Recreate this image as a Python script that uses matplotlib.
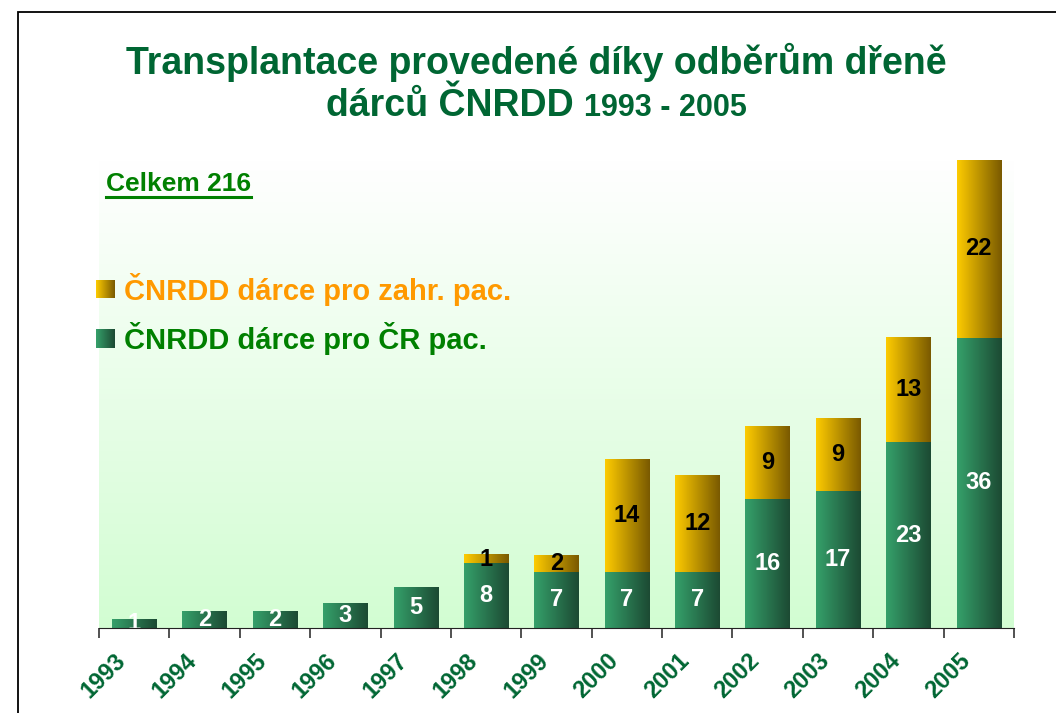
import numpy as np
import matplotlib
matplotlib.use("Agg")
import matplotlib.pyplot as plt
import matplotlib.transforms as mtransforms
from matplotlib.colors import LinearSegmentedColormap
from matplotlib.patches import Rectangle

years = ["1993", "1994", "1995", "1996", "1997", "1998", "1999",
         "2000", "2001", "2002", "2003", "2004", "2005"]
cr_pac = [1, 2, 2, 3, 5, 8, 7, 7, 7, 16, 17, 23, 36]
zahr_pac = [0, 0, 0, 0, 0, 1, 2, 14, 12, 9, 9, 13, 22]
legend_labels = ["ČNRDD dárce pro zahr. pac.", "ČNRDD dárce pro ČR pac."]
total_label = "Celkem 216"

plt.rcParams['font.family'] = ['Liberation Sans', 'DejaVu Sans']

W, H = 1056, 713
fig = plt.figure(figsize=(W / 100, H / 100), dpi=100)

title_col = "#006633"
green_cmap = LinearSegmentedColormap.from_list("g", ["#35a06a", "#1c4a33"])
yellow_cmap = LinearSegmentedColormap.from_list("y", ["#fdcb00", "#7a5a00"])
bg_cmap = LinearSegmentedColormap.from_list("bg", ["#d2fdd2", "#ffffff"])

# frame
fig.patches.append(Rectangle((18 / W, -0.1), 1.2, 1 - 12 / H + 0.1,
                             transform=fig.transFigure, fill=False,
                             edgecolor="black", linewidth=1.3))

ax = fig.add_axes([99 / W, 1 - 628 / H, (1014 - 99) / W, (628 - 160) / H])
n = len(years)
ax.set_xlim(-0.5, n - 0.5)
ax.set_ylim(0, 58)

grad = np.linspace(0, 1, 256).reshape(-1, 1)
ax.imshow(grad, extent=[-0.5, n - 0.5, 0, 58], aspect='auto', cmap=bg_cmap,
          origin='lower', zorder=0)

hgrad = np.linspace(0, 1, 64).reshape(1, -1)
bw = 0.63
for i in range(n):
    g = cr_pac[i]
    z = zahr_pac[i]
    ax.imshow(hgrad, extent=[i - bw / 2, i + bw / 2, 0, g], aspect='auto',
              cmap=green_cmap, zorder=2)
    ax.text(i, g / 2, str(g), ha='center', va='center', color='white',
            fontsize=17, fontweight='bold', zorder=4)
    if z > 0:
        ax.imshow(hgrad, extent=[i - bw / 2, i + bw / 2, g, g + z],
                  aspect='auto', cmap=yellow_cmap, zorder=2)
        ax.text(i, g + z / 2, str(z), ha='center', va='center', color='black',
                fontsize=17, fontweight='bold', zorder=4)

ax.set_xlim(-0.5, n - 0.5)
ax.set_ylim(0, 58)
for s in ['top', 'right', 'left']:
    ax.spines[s].set_visible(False)
ax.spines['bottom'].set_color('#222222')
ax.spines['bottom'].set_zorder(5)
ax.set_yticks([])
ax.set_xticks(np.arange(-0.5, n, 1.0))
ax.set_xticklabels([])
ax.tick_params(axis='x', length=7, width=1.2, color='#333333', direction='out')
ax.set_xticks(np.arange(n), minor=True)
ax.set_xticklabels(years, minor=True, rotation=45, ha='right', va='top',
                   rotation_mode='anchor', fontsize=17, fontweight='bold',
                   color=title_col)
ax.tick_params(axis='x', which='minor', length=0, pad=15)
off = mtransforms.ScaledTranslation(-20 / 100, 0, fig.dpi_scale_trans)
for lab in ax.get_xticklabels(minor=True):
    lab.set_transform(lab.get_transform() + off)

# title
renderer = fig.canvas.get_renderer()
fig.text(536 / W, 1 - 62 / H, "Transplantace provedené díky odběrům dřeně",
         ha='center', va='center', fontsize=27, fontweight='bold', color=title_col)
t1 = fig.text(0, 1 - 116 / H, "dárců ČNRDD ", ha='left', va='baseline',
              fontsize=27, fontweight='bold', color=title_col)
t2 = fig.text(0, 1 - 116 / H, "1993 - 2005", ha='left', va='baseline',
              fontsize=22, fontweight='bold', color=title_col)
w1 = t1.get_window_extent(renderer).width
w2 = t2.get_window_extent(renderer).width
x0 = 536 - (w1 + w2) / 2
t1.set_x(x0 / W)
t2.set_x((x0 + w1) / W)

# Celkem
ct = fig.text(106 / W, 1 - 184 / H, total_label, ha='left', va='center',
              fontsize=19, fontweight='bold', color='#008000')
cw = ct.get_window_extent(renderer).width
fig.add_artist(plt.Line2D([106 / W, (106 + cw) / W], [1 - 197 / H, 1 - 197 / H],
                          transform=fig.transFigure, color='#008000', linewidth=2.2))

# legend
for (ytop, ybot, cmap, lab, col) in [(280, 298, yellow_cmap, legend_labels[0], '#ff9900'),
                                     (329, 348, green_cmap, legend_labels[1], '#008000')]:
    sax = fig.add_axes([96 / W, 1 - ybot / H, 19 / W, (ybot - ytop) / H])
    sax.imshow(hgrad, aspect='auto', cmap=cmap)
    sax.axis('off')
    fig.text(124 / W, 1 - (ytop + ybot) / 2 / H, lab, ha='left', va='center',
             fontsize=21, fontweight='bold', color=col)

fig.savefig("out.png", dpi=100)
